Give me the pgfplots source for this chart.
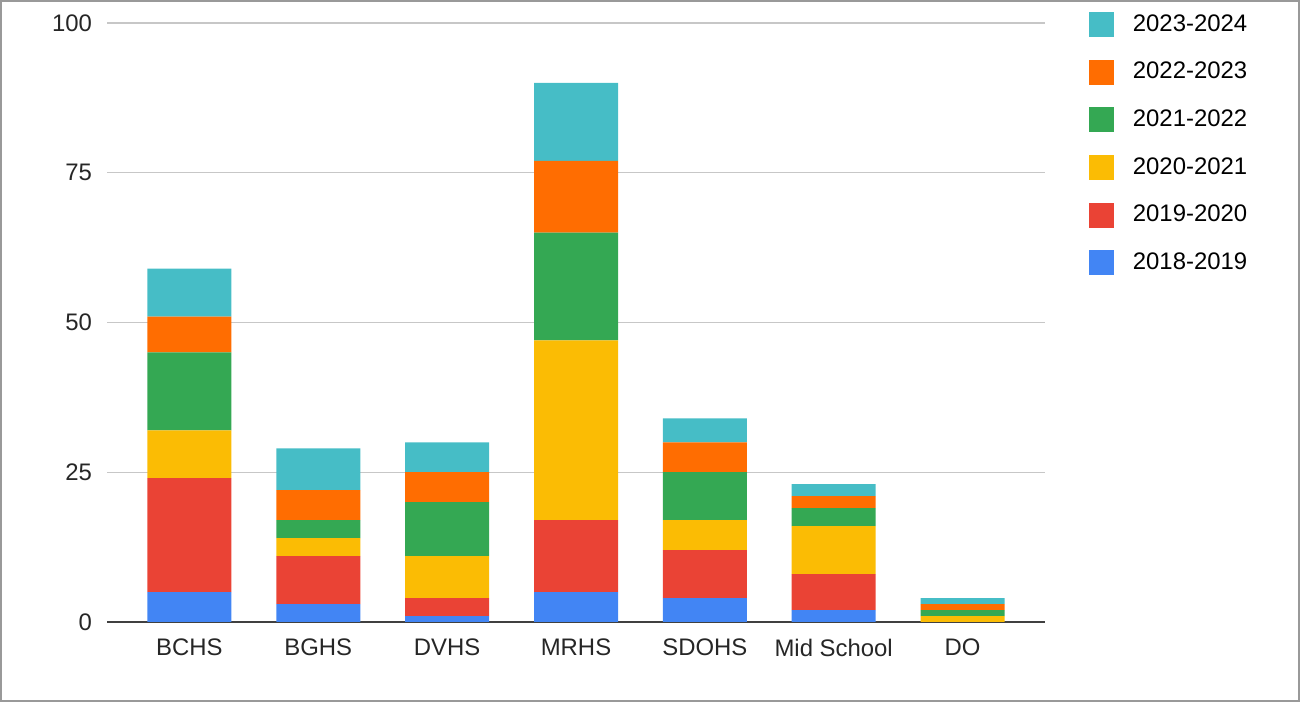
\documentclass[border=0pt]{standalone}
\usepackage{pgfplots}
\usepackage{pgfplotstable}
\pgfplotsset{compat=1.18}
\usepackage{fontspec}
\setmainfont{Liberation Sans}

\definecolor{gblue}{HTML}{4285F4}
\definecolor{gred}{HTML}{EA4335}
\definecolor{gyellow}{HTML}{FBBC04}
\definecolor{ggreen}{HTML}{34A853}
\definecolor{gorange}{HTML}{FF6D01}
\definecolor{gcyan}{HTML}{46BDC6}

% columns: 2018-19 ... 2023-24
\pgfplotstableread{
x  a  b  c  d  e  f
0  5  19 8  13 6  8
1  3  8  3  3  5  7
2  1  3  7  9  5  5
3  5  12 30 18 12 13
4  4  8  5  8  5  4
5  2  6  8  3  2  2
6  0  0  1  1  1  1
}\schools

\begin{document}
\begin{tikzpicture}
\begin{axis}[
  scale only axis,
  width=469bp, height=299.5bp,
  ybar stacked, bar width=42bp,
  xmin=-0.64, xmax=6.64, ymin=0, ymax=100,
  xtick={0,...,6},
  xticklabels={BCHS, BGHS, DVHS, MRHS, SDOHS, Mid School, DO},
  ytick={0,25,50,75,100},
  axis lines*=left,
  y axis line style={draw=none},
  x axis line style={draw=black!75, line width=1bp},
  major tick length=0pt,
  ymajorgrids,
  grid style={black!22, line width=0.6bp},
  tick label style={font=\fontsize{12}{14}\selectfont, text=black!85},
  /pgf/number format/assume math mode=true,
  yticklabel style={xshift=-4bp},
  xticklabel style={yshift=-5bp},
  legend style={at={(1.04,1.028)}, anchor=north west, draw=none, fill=none,
    font=\fontsize{12}{14}\selectfont, row sep=10bp,
    /tikz/every odd column/.append style={column sep=7.5bp}},
  legend cell align=left,
  reverse legend,
  legend image code/.code={\fill[#1] (0bp,-6.25bp) rectangle (12.5bp,6.25bp);},
]
\addplot[fill=gblue, draw=none] table[x=x, y=a] {\schools};
\addlegendentry{2018-2019}
\addplot[fill=gred, draw=none] table[x=x, y=b] {\schools};
\addlegendentry{2019-2020}
\addplot[fill=gyellow, draw=none] table[x=x, y=c] {\schools};
\addlegendentry{2020-2021}
\addplot[fill=ggreen, draw=none] table[x=x, y=d] {\schools};
\addlegendentry{2021-2022}
\addplot[fill=gorange, draw=none] table[x=x, y=e] {\schools};
\addlegendentry{2022-2023}
\addplot[fill=gcyan, draw=none] table[x=x, y=f] {\schools};
\addlegendentry{2023-2024}
\end{axis}
\draw[black!40, line width=0.8bp]
  ([shift={(-53.1bp,-39.6bp)}]current axis.south west)
  rectangle ([shift={(596.1bp,310.6bp)}]current axis.south west);
\end{tikzpicture}
\end{document}
